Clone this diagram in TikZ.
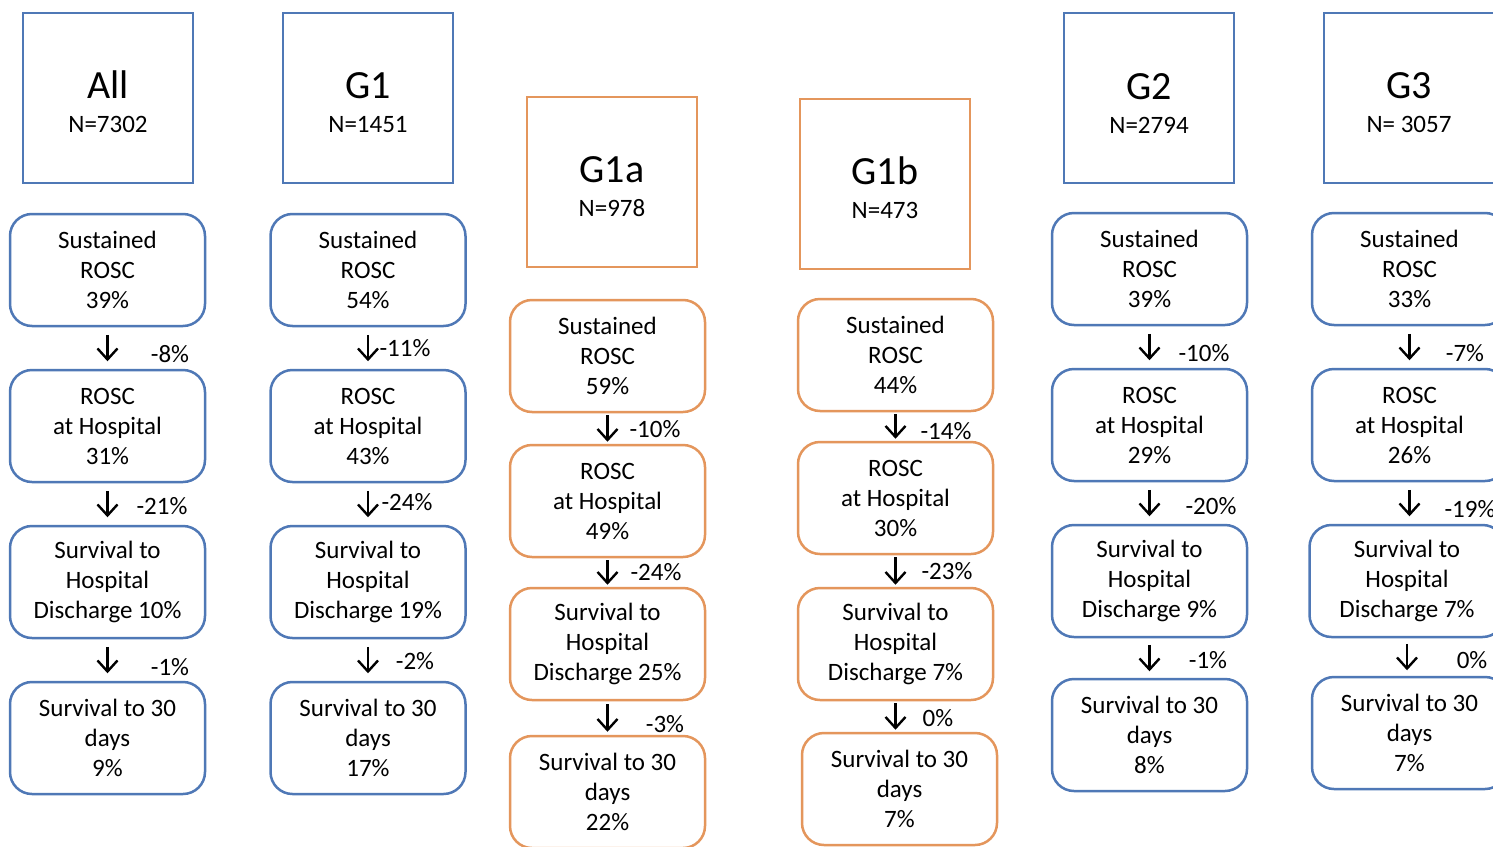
\documentclass[tikz,border=0pt]{standalone}
\usepackage{fontspec}
\setmainfont{Carlito}
\usetikzlibrary{arrows.meta}
\definecolor{boxblue}{RGB}{79,120,182}
\definecolor{boxorange}{RGB}{228,150,92}
\newcommand{\bodyfont}{\fontsize{12.5pt}{15pt}\selectfont}
\newcommand{\headfont}{\fontsize{20pt}{24pt}\selectfont}
% header title line with a taller strut, so the two lines sit a bit lower in the box
\newcommand{\hdrtitle}[1]{{\headfont\rule{0pt}{18pt}#1}}
\tikzset{
  hdr/.style={draw, line width=1.25pt, minimum width=85pt, minimum height=85pt,
    inner sep=0pt, align=center, font=\bodyfont},
  stage/.style={draw, line width=1.25pt, rounded corners=11pt, minimum width=97.5pt,
    minimum height=56pt, inner sep=0pt, align=center, font=\bodyfont},
  blue/.style={draw=boxblue},
  orange/.style={draw=boxorange},
  flow/.style={line width=1.2pt, -{Straight Barb[length=5.5pt,width=10pt,line width=1.2pt]}},
  gap/.style={shorten <=#1, shorten >=#1},
  pct/.style={font=\bodyfont, inner sep=0pt}
}
\begin{document}
\begin{tikzpicture}[x=0.5pt, y=-0.5pt]
\clip (0,0) rectangle (1493,846);
\fill[white] (0,0) rectangle (1493,846);

% ---------- All ----------
\node[hdr, blue] (hA) at (108,98) {\hdrtitle{All}\\[2pt]N=7302};
\node[stage, blue] (A1) at (107.5,270) {Sustained\\ROSC\\39\%};
\node[stage, blue] (A2) at (107.5,426) {ROSC\\at Hospital\\31\%};
\node[stage, blue] (A3) at (107.5,582) {Survival to\\Hospital\\Discharge 10\%};
\node[stage, blue] (A4) at (107.5,738) {Survival to 30\\days\\9\%};
\draw[flow, gap=3.75pt] (A1.south) -- (A2.north);
\draw[flow, gap=3.75pt] (A2.south) -- (A3.north);
\draw[flow, gap=3.75pt] (A3.south) -- (A4.north);
\node[pct] (pA1) at (170,354) {-8\%};
\node[pct] (pA2) at (162,506) {-21\%};
\node[pct] (pA3) at (170,667) {-1\%};

% ---------- G1 ----------
\node[hdr, blue] (hB) at (368,98) {\hdrtitle{G1}\\[2pt]N=1451};
\node[stage, blue] (B1) at (368,270) {Sustained\\ROSC\\54\%};
\node[stage, blue] (B2) at (368,426) {ROSC\\at Hospital\\43\%};
\node[stage, blue] (B3) at (368,582) {Survival to\\Hospital\\Discharge 19\%};
\node[stage, blue] (B4) at (368,738) {Survival to 30\\days\\17\%};
\draw[flow, gap=3.75pt] (B1.south) -- (B2.north);
\draw[flow, gap=3.75pt] (B2.south) -- (B3.north);
\draw[flow, gap=3.75pt] (B3.south) -- (B4.north);
\node[pct] (pB1) at (405,348) {-11\%};
\node[pct] (pB2) at (407,502) {-24\%};
\node[pct] (pB3) at (415,661) {-2\%};

% ---------- G1a ----------
\node[hdr, orange] (hC) at (612,182) {\hdrtitle{G1a}\\[2pt]N=978};
\node[stage, orange] (C1) at (607.5,356) {Sustained\\ROSC\\59\%};
\node[stage, orange] (C2) at (607.5,501) {ROSC\\at Hospital\\49\%};
\node[stage, orange] (C3) at (607.5,644) {Survival to\\Hospital\\Discharge 25\%};
\node[stage, orange] (C4) at (607.5,792) {Survival to 30\\days\\22\%};
\draw[flow, gap=1pt] (C1.south) -- (C2.north);
\draw[flow, gap=1pt] (C2.south) -- (C3.north);
\draw[flow, gap=1.5pt] (C3.south) -- (C4.north);
\node[pct] (pC1) at (655,429) {-10\%};
\node[pct] (pC2) at (656,572) {-24\%};
\node[pct] (pC3) at (665,724) {-3\%};

% ---------- G1b ----------
\node[hdr, orange] (hD) at (885,184) {\hdrtitle{G1b}\\[2pt]N=473};
\node[stage, orange] (D1) at (895.5,355) {Sustained\\ROSC\\44\%};
\node[stage, orange] (D2) at (895.5,498) {ROSC\\at Hospital\\30\%};
\node[stage, orange] (D3) at (895.5,644) {Survival to\\Hospital\\Discharge 7\%};
\node[stage, orange] (D4) at (899.5,789) {Survival to 30\\days\\7\%};
\draw[flow, gap=1pt] (D1.south) -- (D1.south |- D2.north);
\draw[flow, gap=1pt] (D2.south) -- (D2.south |- D3.north);
\draw[flow, gap=1pt] (D3.south) -- (D3.south |- D4.north);
\node[pct] (pD1) at (946,431) {-14\%};
\node[pct] (pD2) at (947,571) {-23\%};
\node[pct] (pD3) at (938,718) {0\%};

% ---------- G2 ----------
\node[hdr, blue] (hE) at (1149,98) {\hdrtitle{G2}\\[2pt]N=2794};
\node[stage, blue] (E1) at (1149.5,269) {Sustained\\ROSC\\39\%};
\node[stage, blue] (E2) at (1149.5,425) {ROSC\\at Hospital\\29\%};
\node[stage, blue] (E3) at (1149.5,581) {Survival to\\Hospital\\Discharge 9\%};
\node[stage, blue] (E4) at (1149.5,735) {Survival to 30\\days\\8\%};
\draw[flow, gap=3.75pt] (E1.south) -- (E2.north);
\draw[flow, gap=3.75pt] (E2.south) -- (E3.north);
\draw[flow, gap=3.25pt] (E3.south) -- (E4.north);
\node[pct] (pE1) at (1204,353) {-10\%};
\node[pct] (pE2) at (1211,506) {-20\%};
\node[pct] (pE3) at (1208,660) {-1\%};

% ---------- G3 ----------
\node[hdr, blue] (hF) at (1409,98) {\hdrtitle{G3}\\[2pt]N= 3057};
\node[stage, blue] (F1) at (1409.5,269) {Sustained\\ROSC\\33\%};
\node[stage, blue] (F2) at (1409.5,425) {ROSC\\at Hospital\\26\%};
\node[stage, blue] (F3) at (1407,581) {Survival to\\Hospital\\Discharge 7\%};
\node[stage, blue] (F4) at (1409.5,733) {Survival to 30\\days\\7\%};
\draw[flow, gap=3.75pt] (F1.south) -- (F1.south |- F2.north);
\draw[flow, gap=3.75pt] (F2.south) -- (F2.south |- F3.north);
\draw[flow, gap=2.75pt] (F3.south) -- (F3.south |- F4.north);
\node[pct] (pF1) at (1465,353) {-7\%};
\node[pct] (pF2) at (1470,509) {-19\%};
\node[pct] (pF3) at (1472,660) {0\%};
\end{tikzpicture}
\end{document}
